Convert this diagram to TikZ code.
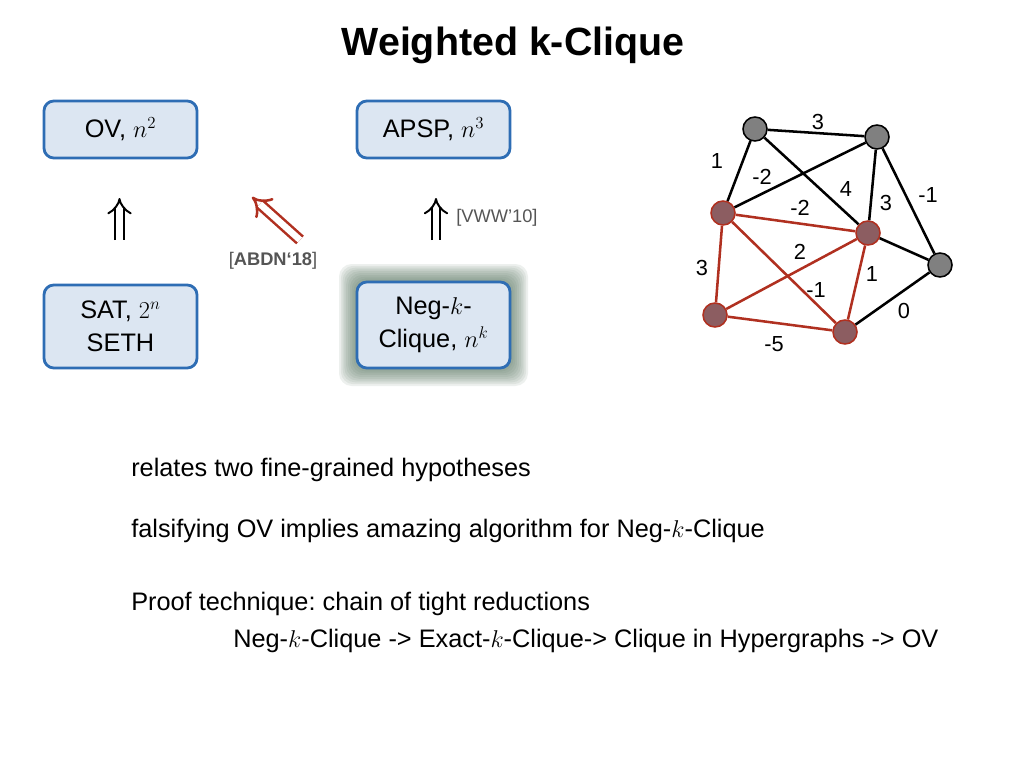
\documentclass[tikz,border=0pt]{standalone}
\usepackage{fontspec}
\setmainfont{Liberation Sans}
\usetikzlibrary{arrows.meta,backgrounds}
\frenchspacing

\definecolor{boxfill}{HTML}{DCE6F2}
\definecolor{boxline}{HTML}{2E6DB4}
\definecolor{glowc}{HTML}{5E7A66}
\definecolor{redline}{HTML}{B03020}
\definecolor{redfill}{HTML}{8C5D61}
\definecolor{grayfill}{HTML}{808080}
\definecolor{refgray}{HTML}{555555}

\begin{document}
\begin{tikzpicture}[x=0.025cm,y=-0.025cm,
    prob/.style={draw=boxline, line width=2pt, fill=boxfill, rounded corners=7pt,
      minimum width=3.825cm, align=center, font=\fontsize{18}{23.5}\selectfont},
    vtx/.style={circle, draw=black, line width=1.1pt, fill=grayfill,
      minimum size=0.6cm, inner sep=0pt},
    rvtx/.style={vtx, draw=redline, fill=redfill},
    wt/.style={font=\fontsize{15.5}{17}\selectfont, inner sep=0pt},
    blk/.style={draw=black, line width=1.8pt},
    redg/.style={draw=redline, line width=1.8pt},
    implies/.style={double, double distance=4.6pt, line width=1.4pt, -{Implies[scale=1.5]}},
    body/.style={font=\fontsize{18}{22}\selectfont, anchor=base west, inner sep=0pt},
    ref/.style={font=\fontsize{13}{15}\selectfont, text=refgray, inner sep=0pt}]
  \useasboundingbox (0,0) rectangle (1024,768);

  % title
  \node[font=\fontsize{28}{30}\selectfont\bfseries, anchor=base] (title) at (513,56)
    {Weighted k-Clique};

  % problems
  \node[prob, minimum height=1.425cm] (ov) at (120.5,129.5) {OV, $n^2$};
  \node[prob, minimum height=1.425cm] (apsp) at (433.5,129.5) {APSP, $n^3$};
  \node[prob, minimum height=2.075cm] (sat) at (120.5,326.5) {SAT, $2^n$\\SETH};
  \node[prob, minimum height=2.15cm] (neg) at (433.5,325) {Neg-$k$-\\Clique, $n^k$};
  \begin{scope}[on background layer]
    \foreach \g in {1,...,10}
      \fill[glowc, opacity=0.11, rounded corners=9pt]
        (357-1.8*\g,282-1.8*\g) rectangle (510+1.8*\g,368+1.8*\g);
  \end{scope}

  % reductions
  \coordinate (ovtail) at (119.5,240);
  \coordinate (ovhead) at (119.5,198);
  \coordinate (apsptail) at (436,240);
  \coordinate (apsphead) at (436,198);
  \coordinate (abdntail) at (300,240);
  \coordinate (abdnhead) at (252,197);
  \draw[implies] (ovtail) -- (ovhead);
  \draw[implies] (apsptail) -- (apsphead);
  \draw[implies, draw=redline, line width=1.8pt] (abdntail) -- (abdnhead);
  \node[ref, anchor=west] (vww) at (456,218) {[VWW’10]};
  \node[ref] (abdn) at (273,261) {[\textbf{ABDN‘18}]};

  % weighted graph
  \node[vtx] (a) at (755,129) {};
  \node[vtx] (b) at (877,137) {};
  \node[rvtx] (c) at (723,213) {};
  \node[rvtx] (d) at (868,233) {};
  \node[vtx] (e) at (940,265) {};
  \node[rvtx] (f) at (715,315) {};
  \node[rvtx] (g) at (845,332) {};
  \path[blk] (a) edge (b) edge (c) edge (d)
    (b) edge (c) edge (d) edge (e)
    (d) edge (e)
    (g) edge (e);
  \path[redg] (c) edge (d) edge (f) edge (g)
    (d) edge (f) edge (g)
    (f) edge (g);
  \node[wt] (wab) at (818,122) {3};
  \node[wt] (wac) at (717,161) {1};
  \node[wt] (wbc) at (762,177) {-2};
  \node[wt] (wad) at (846,189) {4};
  \node[wt] (wbe) at (928,195) {-1};
  \node[wt] (wbd) at (886,203) {3};
  \node[wt] (wcd) at (800,208) {-2};
  \node[wt] (wdf) at (800,252) {2};
  \node[wt] (wcf) at (702,268) {3};
  \node[wt] (wdg) at (872,274) {1};
  \node[wt] (wcg) at (816,290) {-1};
  \node[wt] (wge) at (904,311) {0};
  \node[wt] (wfg) at (774,344) {-5};

  % remarks
  \node[body] (rel) at (131,476) {relates two fine-grained hypotheses};
  \node[body] (fal) at (131,537) {falsifying OV implies amazing algorithm for Neg-$k$-Clique};
  \node[body] (prf) at (131,610) {Proof technique: chain of tight reductions};
  \node[body] (chn) at (233,647) {Neg-$k$-Clique -> Exact-$k$-Clique-> Clique in Hypergraphs -> OV};
\end{tikzpicture}
\end{document}
